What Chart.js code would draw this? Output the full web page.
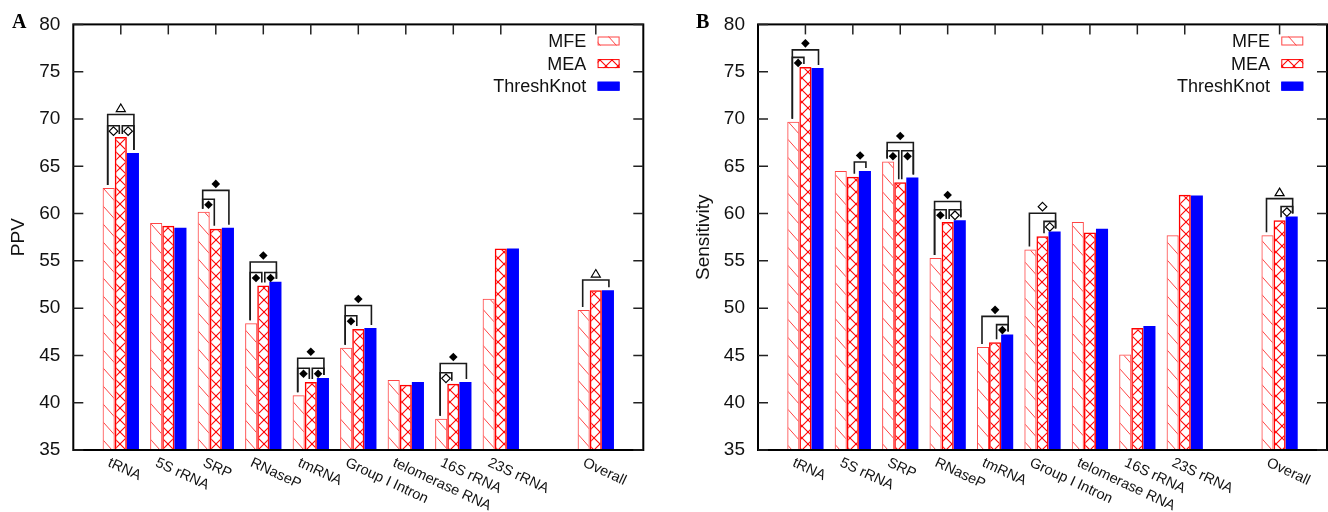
<!DOCTYPE html>
<html>
<head>
<meta charset="utf-8">
<script src="https://cdn.jsdelivr.net/npm/chart.js@4.4.0/dist/chart.umd.min.js"></script>
<style>
  body { margin: 0; background: #fff; width: 1328px; height: 512px; overflow: hidden; position: relative; }
  canvas { position: absolute; top: 0; }
  #chartA { left: 0; }
  #chartB { left: 664px; }
</style>
</head>
<body>
<canvas id="chartA" width="664" height="512"></canvas>
<canvas id="chartB" width="664" height="512"></canvas>
<script>
var categories = ["tRNA", "5S rRNA", "SRP", "RNaseP", "tmRNA", "Group I Intron",
                  "telomerase RNA", "16S rRNA", "23S rRNA", "Overall"];
// slot on the x axis for each category (slot 10 is the empty gap before Overall)
var slots = [1, 2, 3, 4, 5, 6, 7, 8, 9, 11];
var seriesNames = ["MFE", "MEA", "ThreshKnot"];
var yTicks = [35, 40, 45, 50, 55, 60, 65, 70, 75, 80];

var ppvMFE = [62.7, 59.0, 60.2, 48.4, 40.8, 45.8, 42.4, 38.3, 51.0, 49.8];
var ppvMEA = [68.1, 58.7, 58.4, 52.4, 42.2, 47.8, 41.9, 42.0, 56.3, 51.9];
var ppvTK  = [66.4, 58.5, 58.5, 52.8, 42.6, 47.9, 42.2, 42.2, 56.3, 51.9];

var sensMFE = [69.7, 64.5, 65.5, 55.3, 45.9, 56.2, 59.1, 45.1, 57.7, 57.7];
var sensMEA = [75.5, 63.9, 63.3, 59.1, 46.4, 57.6, 58.0, 47.9, 62.0, 59.3];
var sensTK  = [75.4, 64.5, 63.8, 59.3, 47.2, 58.1, 58.4, 48.1, 61.9, 59.7];

// significance brackets: [category, from bar, to bar, height, marker, side]
// markers: fd = filled diamond, od = open diamond, ot = open triangle
var ppvBrackets = [
  [0, 0, 2, 70.47, "ot", "up"], [0, 0, 1, 69.29, "od", "down"], [0, 1, 2, 69.29, "od", "down"],
  [2, 0, 2, 62.45, "fd", "up"], [2, 0, 1, 61.51, "fd", "down"],
  [3, 0, 2, 54.88, "fd", "up"], [3, 0, 1, 53.77, "fd", "down"], [3, 1, 2, 53.77, "fd", "down"],
  [4, 0, 2, 44.70, "fd", "up"], [4, 0, 1, 43.65, "fd", "down"], [4, 1, 2, 43.65, "fd", "down"],
  [5, 0, 2, 50.28, "fd", "up"], [5, 0, 1, 49.20, "fd", "down"],
  [7, 0, 2, 44.14, "fd", "up"], [7, 0, 1, 43.16, "od", "down"],
  [9, 0, 2, 52.97, "ot", "up"]
];
var sensBrackets = [
  [0, 0, 2, 77.31, "fd", "up"], [0, 0, 1, 76.51, "fd", "down"],
  [1, 1, 2, 65.45, "fd", "up"],
  [2, 0, 2, 67.51, "fd", "up"], [2, 0, 1, 66.64, "fd", "down"], [2, 1, 2, 66.64, "fd", "down"],
  [3, 0, 2, 61.27, "fd", "up"], [3, 0, 1, 60.40, "fd", "down"], [3, 1, 2, 60.40, "od", "down"],
  [4, 0, 2, 49.13, "fd", "up"], [4, 1, 2, 48.26, "fd", "down"],
  [5, 0, 2, 60.04, "od", "up"], [5, 1, 2, 59.17, "od", "down"],
  [9, 0, 2, 61.58, "ot", "up"], [9, 1, 2, 60.74, "od", "down"]
];

var FONT = "'Liberation Sans', Arial, sans-serif";

// axis labels with empty slots
var axisLabels = [];
for (var i = 0; i <= 12; i++) axisLabels.push("");
for (var i = 0; i < categories.length; i++) axisLabels[slots[i]] = categories[i];

function toSlots(arr) {
  var out = [];
  for (var i = 0; i <= 12; i++) out.push(null);
  for (var i = 0; i < arr.length; i++) out[slots[i]] = arr[i];
  return out;
}

// hatch patterns
function hatchPattern() {
  var c = document.createElement("canvas");
  c.width = 16; c.height = 18;
  var x = c.getContext("2d");
  x.strokeStyle = "#ff4545";
  x.lineWidth = 1;
  [-16, 0, 16].forEach(function (d) {
    x.beginPath(); x.moveTo(d - 2, -2.25); x.lineTo(d + 18, 20.25); x.stroke();
  });
  return x.createPattern(c, "repeat");
}
function crossPattern() {
  var c = document.createElement("canvas");
  c.width = 12; c.height = 12;
  var x = c.getContext("2d");
  x.strokeStyle = "#ff0000";
  x.lineWidth = 1.1;
  [-12, 0, 12].forEach(function (d) {
    x.beginPath(); x.moveTo(d - 1, -1); x.lineTo(d + 13, 13); x.stroke();
    x.beginPath(); x.moveTo(d + 13, -1); x.lineTo(d - 1, 13); x.stroke();
  });
  return x.createPattern(c, "repeat");
}
var mfeFill = hatchPattern();
var meaFill = crossPattern();

function drawMarker(ctx, type, x, y) {
  ctx.save();
  ctx.lineWidth = 1.2;
  ctx.strokeStyle = "#000";
  ctx.fillStyle = "#000";
  ctx.beginPath();
  if (type === "ot") {
    ctx.moveTo(x, y - 4); ctx.lineTo(x + 4.5, y + 3.5); ctx.lineTo(x - 4.5, y + 3.5); ctx.closePath();
    ctx.stroke();
  } else if (type === "od") {
    ctx.moveTo(x, y - 4.3); ctx.lineTo(x + 4.3, y); ctx.lineTo(x, y + 4.3); ctx.lineTo(x - 4.3, y); ctx.closePath();
    ctx.fillStyle = "#fff"; ctx.fill(); ctx.stroke();
  } else {
    ctx.moveTo(x, y - 4.3); ctx.lineTo(x + 4.3, y); ctx.lineTo(x, y + 4.3); ctx.lineTo(x - 4.3, y); ctx.closePath();
    ctx.fill();
  }
  ctx.restore();
}

function makeChart(id, mfe, mea, tk, brackets, yTitle, titleX, letter, axisWidth, padRight) {
  var decor = {
    id: "decor",
    afterDraw: function (chart) {
      var ctx = chart.ctx;
      var a = chart.chartArea;
      var xs = chart.scales.x, ys = chart.scales.y;
      ctx.save();

      // brackets
      ctx.strokeStyle = "#1a1a1a";
      ctx.lineWidth = 1.6;
      brackets.forEach(function (b) {
        var slot = slots[b[0]];
        var p0 = chart.getDatasetMeta(b[1]).data[slot];
        var p1 = chart.getDatasetMeta(b[2]).data[slot];
        var x0 = p0.x + (b[1] === 1 ? 1.5 : -1);
        var x1 = p1.x + (b[2] === 1 ? -1.5 : 1);
        var yl = ys.getPixelForValue(b[3]);
        ctx.beginPath();
        ctx.moveTo(x0, p0.y - 3);
        ctx.lineTo(x0, yl);
        ctx.lineTo(x1, yl);
        ctx.lineTo(x1, p1.y - 3);
        ctx.stroke();
        var mx = (x0 + x1) / 2;
        var my = b[5] === "up" ? yl - 6.5 : yl + 5.5;
        drawMarker(ctx, b[4], mx, my);
      });

      // frame
      ctx.strokeStyle = "#000";
      ctx.lineWidth = 2;
      ctx.strokeRect(a.left, a.top, a.right - a.left, a.bottom - a.top);

      // inward tick marks
      ctx.lineWidth = 1.5;
      ctx.strokeStyle = "#222";
      yTicks.forEach(function (v) {
        var y = ys.getPixelForValue(v);
        ctx.beginPath();
        ctx.moveTo(a.left, y); ctx.lineTo(a.left + 10, y);
        ctx.moveTo(a.right, y); ctx.lineTo(a.right - 10, y);
        ctx.stroke();
      });
      slots.forEach(function (s) {
        var x = xs.getPixelForValue(s);
        ctx.beginPath();
        ctx.moveTo(x, a.top); ctx.lineTo(x, a.top + 10);
        ctx.stroke();
      });

      // rotated category labels
      ctx.fillStyle = "#111";
      ctx.font = "14.5px " + FONT;
      ctx.textAlign = "left";
      ctx.textBaseline = "top";
      categories.forEach(function (c, i) {
        var x = xs.getPixelForValue(slots[i]);
        ctx.save();
        ctx.translate(x - 9, a.bottom + 5.5);
        ctx.rotate(25 * Math.PI / 180);
        ctx.fillText(c, 0, 0);
        ctx.restore();
      });

      // y title
      ctx.save();
      ctx.font = "19px " + FONT;
      ctx.textAlign = "center";
      ctx.textBaseline = "middle";
      ctx.translate(titleX, (a.top + a.bottom) / 2);
      ctx.rotate(-Math.PI / 2);
      ctx.fillText(yTitle, 0, 0);
      ctx.restore();

      // panel letter
      ctx.font = "bold 20px 'Liberation Serif', 'Times New Roman', serif";
      ctx.textAlign = "left";
      ctx.textBaseline = "alphabetic";
      ctx.fillStyle = "#000";
      ctx.fillText(letter, letter === "A" ? 12 : 32, 28);

      // legend
      var fills = [mfeFill, meaFill, "#0000ff"];
      var edges = ["#ff4545", "#ff0000", "#0000ff"];
      ctx.font = "18px " + FONT;
      ctx.textAlign = "right";
      ctx.textBaseline = "middle";
      for (var i = 0; i < seriesNames.length; i++) {
        var cy = 41 + i * 22.6;
        ctx.fillStyle = "#111";
        ctx.fillText(seriesNames[i], a.right - 57, cy + 1);
        ctx.fillStyle = fills[i];
        ctx.fillRect(a.right - 45.7, cy - 4.5, 22, 9);
        ctx.strokeStyle = edges[i];
        ctx.lineWidth = 1;
        ctx.strokeRect(a.right - 45.2, cy - 4, 21, 8);
      }
      ctx.restore();
    }
  };

  return new Chart(document.getElementById(id), {
    type: "bar",
    data: {
      labels: axisLabels,
      datasets: [
        { label: seriesNames[0], data: toSlots(mfe), backgroundColor: mfeFill, borderColor: "#ff4545", borderWidth: 1 },
        { label: seriesNames[1], data: toSlots(mea), backgroundColor: meaFill, borderColor: "#ff0000", borderWidth: 1.5 },
        { label: seriesNames[2], data: toSlots(tk), backgroundColor: "#0000ff", borderWidth: 0 }
      ]
    },
    options: {
      responsive: false,
      animation: false,
      devicePixelRatio: 1,
      categoryPercentage: 0.765,
      barPercentage: 1.0,
      layout: { padding: { left: 0, right: padRight, top: 20, bottom: 0 } },
      plugins: { legend: { display: false }, tooltip: { enabled: false } },
      scales: {
        x: {
          type: "category",
          offset: false,
          grid: { display: false, drawTicks: false },
          border: { display: false },
          ticks: { display: false },
          afterFit: function (s) { s.height = 62; }
        },
        y: {
          min: 35,
          max: 80,
          grid: { display: false, drawTicks: false },
          border: { display: false },
          ticks: {
            stepSize: 5,
            padding: 13,
            color: "#111",
            font: { family: FONT, size: 19 }
          },
          afterFit: function (s) { s.width = axisWidth; }
        }
      }
    },
    plugins: [decor]
  });
}

makeChart("chartA", ppvMFE, ppvMEA, ppvTK, ppvBrackets, "PPV", 18.5, "A", 73.3, 20.7);
makeChart("chartB", sensMFE, sensMEA, sensTK, sensBrackets, "Sensitivity", 40, "B", 94, 1);
</script>
</body>
</html>
